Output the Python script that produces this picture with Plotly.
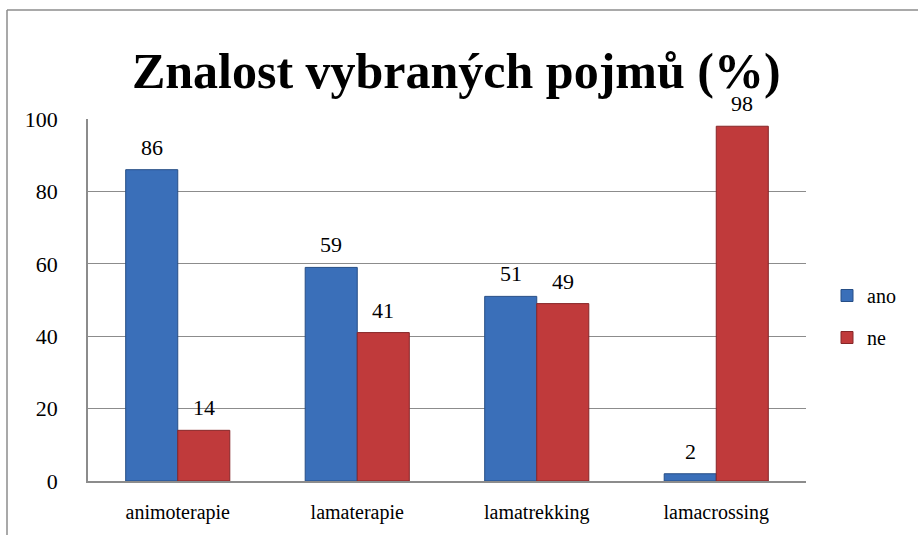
import plotly.graph_objects as go

categories = ["animoterapie", "lamaterapie", "lamatrekking", "lamacrossing"]
ano = [86, 59, 51, 2]
ne = [14, 41, 49, 98]
series_names = ["ano", "ne"]
y_ticks = [0, 20, 40, 60, 80, 100]

W, H = 918, 535
L, R, T, B = 88, 806, 119, 481
SERIF = "Liberation Serif, Times New Roman, serif"

fig = go.Figure()
fig.add_trace(go.Bar(
    x=categories, y=ano, name=series_names[0], legendgroup="a",
    marker=dict(color="#3a6fb9", line=dict(color="#264e86", width=1)),
))
fig.add_trace(go.Bar(
    x=categories, y=ne, name=series_names[1], legendgroup="b",
    marker=dict(color="#c03a3b", line=dict(color="#862628", width=1)),
))

# data labels
for i, c in enumerate(categories):
    for vals, off in ((ano, -0.145), (ne, 0.145)):
        fig.add_annotation(
            x=i + off, y=vals[i], text=str(vals[i]), showarrow=False,
            yanchor="bottom", yshift=8, xref="x", yref="y",
            font=dict(family=SERIF, size=22, color="black"),
        )

def px_x(p):
    return (p - L) / (R - L)

def px_y(p):
    return (B - p) / (B - T)

# outer chart border (partial, as in reference)
fig.add_shape(type="line", xref="paper", yref="paper",
              x0=px_x(7), x1=px_x(918), y0=px_y(10), y1=px_y(10),
              line=dict(color="#8c8c8c", width=1.5))
fig.add_shape(type="line", xref="paper", yref="paper",
              x0=px_x(7), x1=px_x(7), y0=px_y(10), y1=px_y(535),
              line=dict(color="#8c8c8c", width=1.5))

fig.update_layout(
    width=W, height=H,
    margin=dict(l=L, r=W - R, t=T, b=H - B, autoexpand=False),
    paper_bgcolor="white", plot_bgcolor="white",
    barmode="group", bargap=0.42, bargroupgap=0,
    title=dict(text="<b>Znalost vybraných pojmů (%)</b>",
               x=0.497, xanchor="center", y=1 - 70 / H, yanchor="middle",
               font=dict(family=SERIF, size=50, color="black")),
    font=dict(family=SERIF, color="black"),
    legend=dict(x=px_x(827), y=px_y(276), xanchor="left", yanchor="top",
                font=dict(family=SERIF, size=20, color="black"),
                traceorder="grouped", tracegroupgap=13,
                itemwidth=30, bgcolor="rgba(0,0,0,0)"),
    showlegend=True,
)
fig.update_xaxes(
    showline=True, linecolor="#8c8c8c", linewidth=1.5, showgrid=False,
    tickfont=dict(family=SERIF, size=20, color="black"),
    ticks="", ticklabelstandoff=12, automargin=False,
)
fig.update_yaxes(
    range=[0, 100], tickvals=y_ticks, showgrid=True, gridcolor="#8c8c8c",
    gridwidth=1.2, showline=True, linecolor="#8c8c8c", linewidth=1.5,
    zeroline=False, ticks="", automargin=False,
    tickfont=dict(family=SERIF, size=22, color="black"),
    ticklabelstandoff=24,
)
fig.update_traces(cliponaxis=False)

fig.write_html(
    "out.html",
    config={"displayModeBar": False},
    post_script="document.body.style.margin='0';document.body.style.overflow='hidden';",
)
